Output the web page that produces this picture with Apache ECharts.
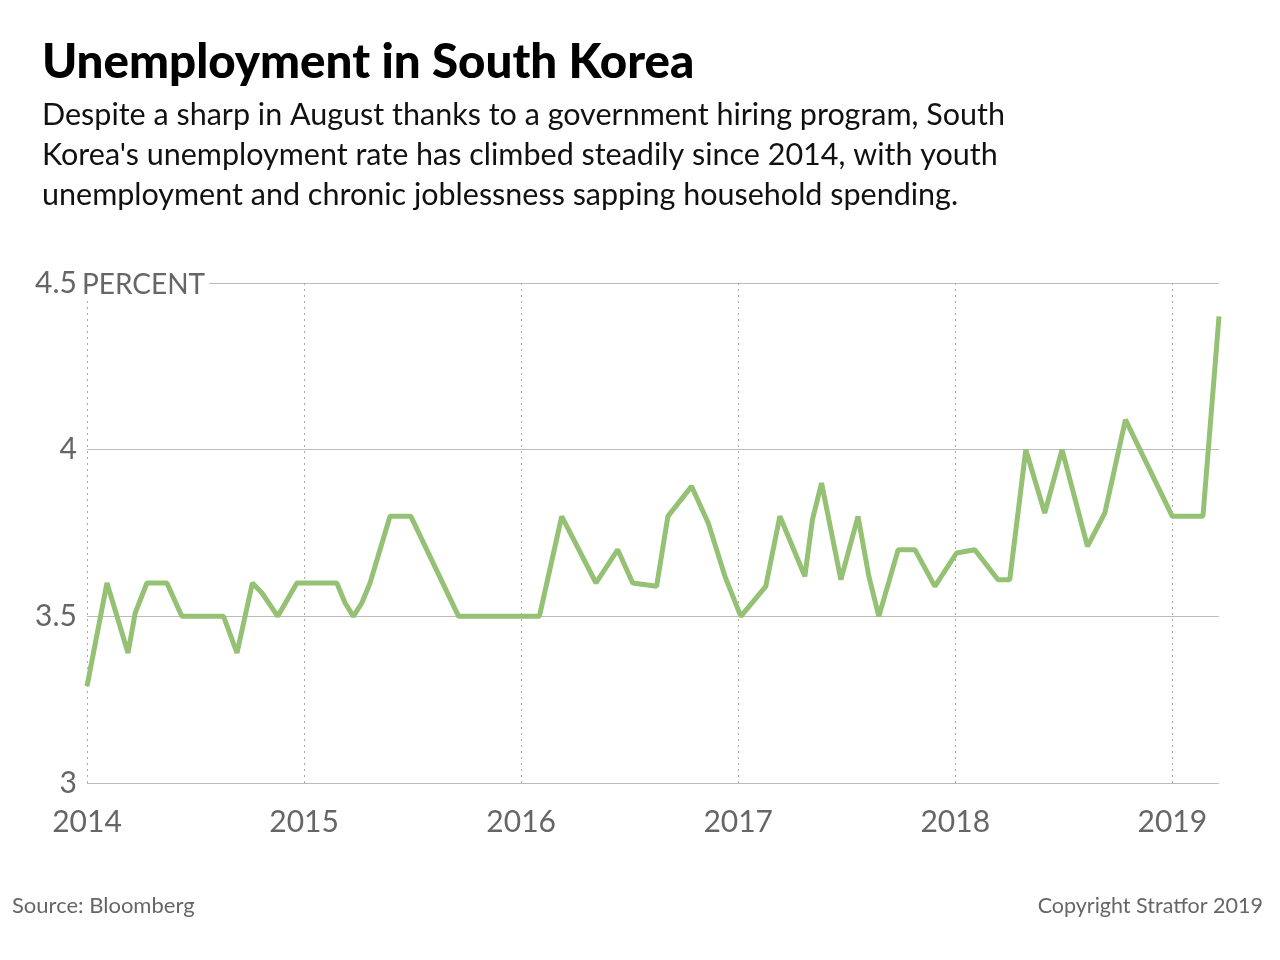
<!DOCTYPE html>
<html>
<head>
<meta charset="utf-8">
<title>Unemployment in South Korea</title>
<script src="https://cdn.jsdelivr.net/npm/echarts@6/dist/echarts.min.js"></script>
<style>
    html, body { margin: 0; padding: 0; background: #fff; }
    #chart { width: 1280px; height: 960px; }
</style>
</head>
<body>
<div id="chart"></div>
<script>
// data (x = position in years, y = percent)
const years = [
    2014.000, 2014.092, 2014.189, 2014.222, 2014.276, 2014.368, 2014.437, 2014.629,
    2014.691, 2014.762, 2014.806, 2014.879, 2014.967, 2015.151, 2015.189, 2015.227,
    2015.266, 2015.304, 2015.396, 2015.492, 2015.712, 2016.084, 2016.187, 2016.345,
    2016.445, 2016.514, 2016.624, 2016.676, 2016.785, 2016.862, 2016.939, 2017.012,
    2017.127, 2017.192, 2017.307, 2017.342, 2017.384, 2017.473, 2017.552, 2017.602,
    2017.648, 2017.737, 2017.814, 2017.906, 2018.006, 2018.090, 2018.197, 2018.251,
    2018.325, 2018.412, 2018.492, 2018.609, 2018.689, 2018.784, 2019.000, 2019.141,
    2019.215
]
const rates = [
    3.29, 3.60, 3.39, 3.51, 3.60, 3.60, 3.50, 3.50,
    3.39, 3.60, 3.57, 3.50, 3.60, 3.60, 3.54, 3.50,
    3.54, 3.60, 3.80, 3.80, 3.50, 3.50, 3.80, 3.60,
    3.70, 3.60, 3.59, 3.80, 3.89, 3.78, 3.62, 3.50,
    3.59, 3.80, 3.62, 3.79, 3.90, 3.61, 3.80, 3.62,
    3.50, 3.70, 3.70, 3.59, 3.69, 3.70, 3.61, 3.61,
    4.00, 3.81, 4.00, 3.71, 3.81, 4.09, 3.80, 3.80,
    4.40
]
const yearTicks = [2014, 2015, 2016, 2017, 2018, 2019]
const rateMin = 3
const rateMax = 4.5
const rateStep = 0.5

const seriesData = years.map((y, i) => [y, rates[i]])

const FONT = 'Lato, "Open Sans", sans-serif'
const GREY = '#666'

const chart = echarts.init(document.getElementById('chart'))

const option = {
    animation: false,
    backgroundColor: '#fff',
    title: [{
        text: 'Unemployment in South Korea',
        left: 37,
        top: 30,
        textStyle: {
            fontFamily: FONT,
            fontSize: 47.5,
            fontWeight: 900,
            color: '#000',
            lineHeight: 56
        }
    }, {
        text: 'Despite a sharp in August thanks to a government hiring program, South\n' +
            "Korea's unemployment rate has climbed steadily since 2014, with youth\n" +
            'unemployment and chronic joblessness sapping household spending.',
        left: 37,
        top: 90,
        textStyle: {
            fontFamily: FONT,
            fontSize: 30.5,
            fontWeight: 'normal',
            color: '#111',
            lineHeight: 40
        }
    }, {
        text: 'Source: Bloomberg',
        left: 7,
        top: 888,
        textStyle: { fontFamily: FONT, fontSize: 22, fontWeight: 'normal', color: GREY, lineHeight: 26 }
    }, {
        text: 'Copyright Stratfor 2019',
        right: 12,
        top: 888,
        textStyle: { fontFamily: FONT, fontSize: 21.5, fontWeight: 'normal', color: GREY, lineHeight: 26 }
    }],
    grid: {
        left: 87,
        right: 61,
        top: 283,
        bottom: 177,
        outerBoundsMode: 'none'
    },
    xAxis: {
        type: 'value',
        min: years[0],
        max: years[years.length - 1],
        axisLine: { show: false },
        axisTick: { show: false, customValues: yearTicks },
        axisLabel: {
            customValues: yearTicks,
            formatter: v => String(v),
            color: GREY,
            fontFamily: FONT,
            fontSize: 30,
            margin: 24
        },
        splitLine: {
            show: true,
            lineStyle: { color: '#aaa', width: 1, type: [2, 4] }
        }
    },
    yAxis: {
        type: 'value',
        min: rateMin,
        max: rateMax,
        interval: rateStep,
        axisLine: { show: false },
        axisTick: { show: false },
        axisLabel: {
            color: GREY,
            fontFamily: FONT,
            fontSize: 30,
            margin: 10
        },
        splitLine: {
            lineStyle: { color: '#bbb', width: 1 }
        }
    },
    graphic: [{
        type: 'text',
        left: 81,
        top: 271,
        z: 100,
        style: {
            text: 'PERCENT',
            font: '28px ' + FONT,
            fill: GREY,
            backgroundColor: '#fff',
            padding: [0, 4, 2, 1]
        }
    }],
    series: [{
        type: 'line',
        data: seriesData,
        showSymbol: false,
        symbol: 'none',
        lineStyle: { color: '#94c174', width: 5 },
        z: 10
    }]
}

chart.setOption(option)
</script>
</body>
</html>
